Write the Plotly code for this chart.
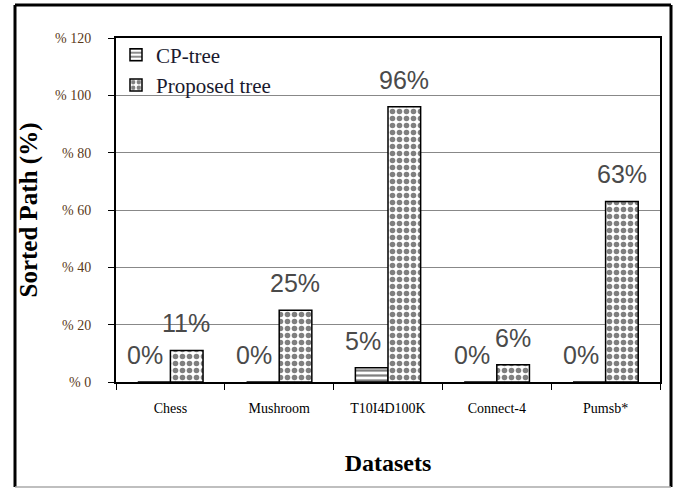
import plotly.graph_objects as go

categories = ["Chess", "Mushroom", "T10I4D100K", "Connect-4", "Pumsb*"]
cp_tree = [0, 0, 5, 0, 0]
proposed_tree = [11, 25, 96, 6, 63]
cp_labels = ["0%", "0%", "5%", "0%", "0%"]
proposed_labels = ["11%", "25%", "96%", "6%", "63%"]
y_tickvals = [0, 20, 40, 60, 80, 100, 120]
y_ticktext = ["% 0", "% 20", "% 40", "% 60", "% 80", "% 100", "% 120"]

serif = "Liberation Serif, Times New Roman, serif"
sans = "Liberation Sans, Arial, sans-serif"

fig = go.Figure()
fig.add_trace(go.Bar(
    name="CP-tree", x=categories, y=cp_tree,
    marker=dict(color="white", line=dict(color="black", width=1.5),
                pattern=dict(shape="-", fgcolor="black", bgcolor="white", size=5, solidity=0.45)),
))
fig.add_trace(go.Bar(
    name="Proposed tree", x=categories, y=proposed_tree,
    marker=dict(color="white", line=dict(color="black", width=1.5),
                pattern=dict(shape=".", fgcolor="black", bgcolor="white", size=7, solidity=0.5)),
))

# data labels above each bar
label_font = dict(family=sans, size=25, color="#4a4a4a")
for cat, val, lab in zip(categories, cp_tree, cp_labels):
    fig.add_annotation(x=cat, y=val, text=lab, showarrow=False, xshift=-25, yshift=27,
                       yanchor="middle", font=label_font)
for cat, val, lab in zip(categories, proposed_tree, proposed_labels):
    fig.add_annotation(x=cat, y=val, text=lab, showarrow=False, xshift=16, yshift=27,
                       yanchor="middle", font=label_font)

# outer frame
frame = dict(type="line", xref="paper", yref="paper", line=dict(color="black", width=3))
x0, x1 = (15 - 116) / 544, (671 - 116) / 544
y0, y1 = (382 - 487) / 344, (382 - 5) / 344
fig.add_shape(**frame, x0=x0, x1=x0, y0=y0, y1=y1)
fig.add_shape(**frame, x0=x1, x1=x1, y0=y0, y1=y1)
fig.add_shape(**frame, x0=x0, x1=x1, y0=y1, y1=y1)
fig.add_shape(type="line", xref="paper", yref="paper", x0=x0, x1=x1, y0=y0, y1=y0,
              line=dict(color="#aaaaaa", width=1.5))

fig.update_layout(
    width=681, height=489,
    margin=dict(l=116, r=21, t=38, b=107),
    paper_bgcolor="white", plot_bgcolor="white",
    barmode="group", bargap=0.4, bargroupgap=0,
    showlegend=True,
    legend=dict(x=0.0, y=1.01, xanchor="left", yanchor="top",
                bgcolor="rgba(0,0,0,0)", tracegroupgap=0,
                font=dict(family=serif, size=21, color="#1a1a2e"),
                itemwidth=30),
    xaxis=dict(
        tickfont=dict(family=serif, size=14, color="black"),
        tickson="boundaries", ticks="outside", ticklen=6, tickcolor="black",
        ticklabelstandoff=12,
        showline=True, linecolor="black", linewidth=2, mirror=True,
        title=dict(text="<b>Datasets</b>", font=dict(family=serif, size=24, color="black"), standoff=39),
    ),
    yaxis=dict(
        range=[0, 120], tickvals=y_tickvals, ticktext=y_ticktext,
        tickfont=dict(family=serif, size=14, color="#5a3a1a"),
        ticks="outside", ticklen=6, tickcolor="black", ticklabelstandoff=14,
        showline=True, linecolor="black", linewidth=2, mirror=True,
        showgrid=True, gridcolor="#888888", gridwidth=1.2,
        title=dict(text="<b>Sorted Path (%)</b>", font=dict(family=serif, size=25, color="black"), standoff=10),
    ),
)

fig.write_html("out.html", config={"displayModeBar": False},
               post_script="document.body.style.margin='0';document.body.style.overflow='hidden';")
